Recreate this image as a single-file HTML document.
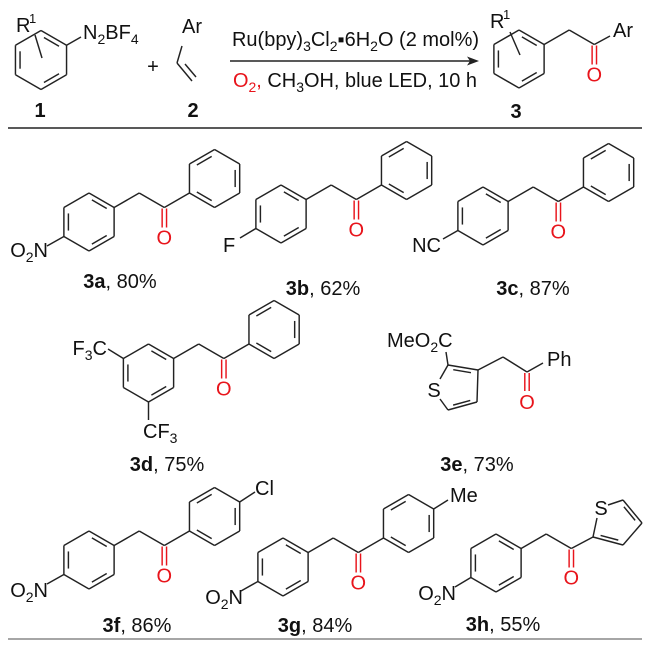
<!DOCTYPE html>
<html><head><meta charset="utf-8"><style>
html,body{margin:0;padding:0;background:#fff;}
svg{display:block;}
text{font-family:"Liberation Sans",Arial,sans-serif;font-size:20px;fill:#111;}
</style></head><body>
<svg id="s" width="650" height="646" viewBox="0 0 650 646" xmlns="http://www.w3.org/2000/svg">
<text x="232" y="46" textLength="247" lengthAdjust="spacingAndGlyphs">Ru(bpy)<tspan style="font-size:14px" dy="5">3</tspan><tspan dy="-5">Cl</tspan><tspan style="font-size:14px" dy="5">2</tspan><tspan dy="-5">▪6H</tspan><tspan style="font-size:14px" dy="5">2</tspan><tspan dy="-5">O (2 mol%)</tspan></text>
<line x1="230" y1="61" x2="472" y2="61" stroke="#222" stroke-width="1.4"/>
<polygon points="479,61 467,56.5 470,61 467,65.5" fill="#222"/>
<text x="233" y="87" textLength="244" lengthAdjust="spacingAndGlyphs"><tspan style="fill:#e8141b">O</tspan><tspan style="font-size:14px;fill:#e8141b" dy="5">2</tspan><tspan dy="-5" style="fill:#e8141b">,</tspan> CH<tspan style="font-size:14px" dy="5">3</tspan><tspan dy="-5">OH, blue LED, 10 h</tspan></text>
<text x="16" y="32">R</text><text x="29" y="23" style="font-size:13px">1</text>
<text x="83" y="39">N<tspan style="font-size:14px" dy="5">2</tspan><tspan dy="-5">BF</tspan><tspan style="font-size:14px" dy="5">4</tspan></text>
<text x="153" y="73" text-anchor="middle">+</text>
<text x="182" y="33">Ar</text>
<text x="40" y="117" text-anchor="middle" font-weight="bold">1</text>
<text x="193" y="117" text-anchor="middle" font-weight="bold">2</text>
<text x="490" y="28">R</text><text x="503" y="19" style="font-size:13px">1</text>
<text x="613" y="37">Ar</text>
<text x="516" y="118" text-anchor="middle" font-weight="bold">3</text>
<line x1="8" y1="128" x2="642" y2="128" stroke="#222" stroke-width="1.6"/>
<text x="48" y="257" text-anchor="end">O<tspan style="font-size:14px" dy="5">2</tspan><tspan dy="-5">N</tspan></text>
<text x="223" y="252">F</text>
<text x="441" y="252" text-anchor="end">NC</text>
<text x="120" y="288" text-anchor="middle"><tspan font-weight="bold">3a</tspan>, 80%</text>
<text x="323" y="295" text-anchor="middle"><tspan font-weight="bold">3b</tspan>, 62%</text>
<text x="533" y="295" text-anchor="middle"><tspan font-weight="bold">3c</tspan>, 87%</text>
<text x="107" y="355" text-anchor="end">F<tspan style="font-size:14px" dy="5">3</tspan><tspan dy="-5">C</tspan></text>
<text x="143" y="438">CF<tspan style="font-size:14px" dy="5">3</tspan></text>
<text x="387" y="347">MeO<tspan style="font-size:14px" dy="5">2</tspan><tspan dy="-5">C</tspan></text>
<text x="434" y="397" text-anchor="middle">S</text>
<text x="547" y="366">Ph</text>
<text x="167" y="471" text-anchor="middle"><tspan font-weight="bold">3d</tspan>, 75%</text>
<text x="477" y="471" text-anchor="middle"><tspan font-weight="bold">3e</tspan>, 73%</text>
<text x="255" y="495">Cl</text>
<text x="450" y="502">Me</text>
<text x="601" y="515" text-anchor="middle">S</text>
<text x="48" y="597" text-anchor="end">O<tspan style="font-size:14px" dy="5">2</tspan><tspan dy="-5">N</tspan></text>
<text x="243" y="604" text-anchor="end">O<tspan style="font-size:14px" dy="5">2</tspan><tspan dy="-5">N</tspan></text>
<text x="456" y="600" text-anchor="end">O<tspan style="font-size:14px" dy="5">2</tspan><tspan dy="-5">N</tspan></text>
<text x="137" y="632" text-anchor="middle"><tspan font-weight="bold">3f</tspan>, 86%</text>
<text x="315" y="632" text-anchor="middle"><tspan font-weight="bold">3g</tspan>, 84%</text>
<text x="503" y="631" text-anchor="middle"><tspan font-weight="bold">3h</tspan>, 55%</text>
<line x1="8" y1="639" x2="642" y2="639" stroke="#888" stroke-width="1.6"/>
<g id="g"></g>
</svg>
<script>
var NS="http://www.w3.org/2000/svg",G=document.getElementById('g');
function ln(x1,y1,x2,y2,c){var e=document.createElementNS(NS,'line');e.setAttribute('x1',x1);e.setAttribute('y1',y1);e.setAttribute('x2',x2);e.setAttribute('y2',y2);e.setAttribute('stroke',c||'#222');e.setAttribute('stroke-width','1.45');G.appendChild(e);}
function tx(x,y,s,c){var e=document.createElementNS(NS,'text');e.setAttribute('x',x);e.setAttribute('y',y);e.setAttribute('text-anchor','middle');if(c)e.setAttribute('style','fill:'+c);e.textContent=s;G.appendChild(e);}
function inner(a,b,c){var k=0.82;var a2=[c[0]+(a[0]-c[0])*k,c[1]+(a[1]-c[1])*k],b2=[c[0]+(b[0]-c[0])*k,c[1]+(b[1]-c[1])*k];
 var t=0.14;ln(a2[0]+(b2[0]-a2[0])*t,a2[1]+(b2[1]-a2[1])*t,b2[0]+(a2[0]-b2[0])*t,b2[1]+(a2[1]-b2[1])*t);}
function ring(cx,cy,L,d){var v=[];for(var k=0;k<6;k++){var th=(90-60*k)*Math.PI/180;v.push([cx+L*Math.cos(th),cy-L*Math.sin(th)]);}
 for(k=0;k<6;k++){var a=v[k],b=v[(k+1)%6];ln(a[0],a[1],b[0],b[1]);}
 d.forEach(function(k){inner(v[k],v[(k+1)%6],[cx,cy]);});return v;}
function co(x,y,len,ob){ln(x-2.2,y+1,x-2.2,y+len,'#e8141b');ln(x+2.2,y+1,x+2.2,y+len,'#e8141b');tx(x,y+ob,'O','#e8141b');}
function prod(cx,cy,L){var hx=L*0.866,hy=L/2;var A=ring(cx,cy,L,[0,2,4]);var v1=A[1];var ch=[v1[0]+hx,v1[1]-hy],c=[ch[0]+hx,ch[1]+hy],p4=[c[0]+hx,c[1]-hy];
 ln(v1[0],v1[1],ch[0],ch[1]);ln(ch[0],ch[1],c[0],c[1]);ln(c[0],c[1],p4[0],p4[1]);co(c[0],c[1],20,37);
 var P=ring(p4[0]+hx,p4[1]-hy,L,[5,1,3]);return {A:A,P:P,C:c};}
var r1=ring(41,60,29.5,[0,2,4]);ln(35,35,42,58);ln(r1[1][0],r1[1][1],81,37);
ln(182,46,177,63);ln(177,63,192,81);ln(185,64,196,77);
var r3=ring(519,59,29,[0,2,4]);ln(510,32,520,55);
(function(){var v1=r3[1],hx=25.1,hy=14.5;var ch=[v1[0]+hx,v1[1]-hy],c=[ch[0]+hx,ch[1]+hy];ln(v1[0],v1[1],ch[0],ch[1]);ln(ch[0],ch[1],c[0],c[1]);ln(c[0],c[1],610,36);co(c[0],c[1],20,37);})();
var L=29,m;
m=prod(89,222,L);ln(m.A[4][0],m.A[4][1],47,246);
m=prod(281,214,L);ln(m.A[4][0],m.A[4][1],240,238);
m=prod(483,216,L);ln(m.A[4][0],m.A[4][1],443,239);
m=prod(148.5,373,L);ln(m.A[5][0],m.A[5][1],108,349);ln(m.A[3][0],m.A[3][1],148.5,420);
m=prod(89,560,L);ln(m.A[4][0],m.A[4][1],47,584);ln(m.P[1][0],m.P[1][1],255,492);
m=prod(283,567,L);ln(m.A[4][0],m.A[4][1],241,591);ln(m.P[1][0],m.P[1][1],448,500);
var C2=[448,365],C3=[478,370],C4=[477,402],C5=[448,410],tc=[458,388];
ln(C2[0],C2[1],C3[0],C3[1]);ln(C3[0],C3[1],C4[0],C4[1]);ln(C4[0],C4[1],C5[0],C5[1]);
ln(448,365,440,379);ln(448,410,440,399);inner(C2,C3,tc);inner(C4,C5,tc);
ln(448,365,446,352);ln(478,370,503,357);ln(503,357,527,372);ln(527,372,543,363);co(527,372,19,37);
var A=ring(496,563,L,[0,2,4]);ln(A[4][0],A[4][1],455,587);
var v1=A[1];var ch=[v1[0]+25.1,v1[1]-14.5],c=[ch[0]+25.1,ch[1]+14.5];ln(v1[0],v1[1],ch[0],ch[1]);ln(ch[0],ch[1],c[0],c[1]);co(c[0],c[1],19,36);
var T2=[593,537],T3=[623,545],T4=[642,523],T5=[623,500],tc2=[616,523];
ln(c[0],c[1],T2[0],T2[1]);ln(T2[0],T2[1],T3[0],T3[1]);ln(T3[0],T3[1],T4[0],T4[1]);ln(T4[0],T4[1],T5[0],T5[1]);
ln(593,537,597,518);ln(623,500,608,505);inner(T2,T3,tc2);inner(T4,T5,tc2);
</script>
</body></html>
